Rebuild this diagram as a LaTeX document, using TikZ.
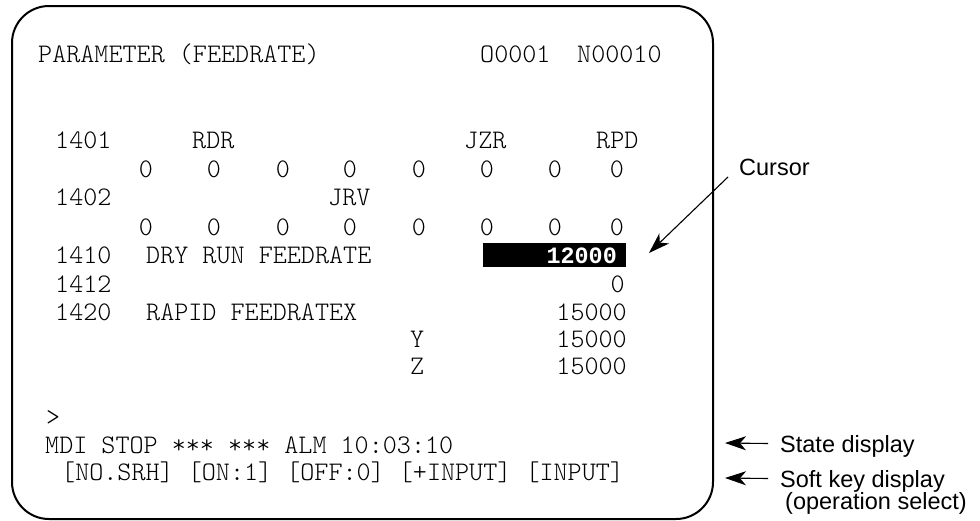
\documentclass[tikz,border=0pt]{standalone}
\usepackage{fontspec}
\setsansfont{Liberation Sans}
\setmonofont{Latin Modern Mono Light}
\newfontfamily\curmono{Liberation Mono}
\usetikzlibrary{arrows.meta}

\begin{document}
\begin{tikzpicture}[x=1pt,y=-1pt,
    scr/.style={anchor=base west,inner sep=0pt,font=\fontsize{26.8}{30}\selectfont\ttfamily},
    scrr/.style={scr,anchor=base east},
    scrc/.style={scr,anchor=base},
    note/.style={anchor=base west,inner sep=0pt,font=\fontsize{23.5}{28}\selectfont\sffamily},
    ptr/.style={line width=1.1pt,-{Stealth[length=21pt,width=14pt,inset=6pt]}}]
    \useasboundingbox (0,0) rectangle (980,520);
    \draw [line width=2pt,rounded corners=37pt] (12,6) rectangle (713,519);
    % screen text
    \node [scr] (title) at (38,62) {PARAMETER (FEEDRATE)};
    \node [scr] (prog) at (480,62) {O0001};
    \node [scr] (seq) at (577,62) {N00010};
    \node [scr] (p1401) at (55,148) {1401};
    \node [scr] (rdr) at (192,148) {RDR};
    \node [scr] (jzr) at (464,148) {JZR};
    \node [scr] (rpd) at (596,148) {RPD};
    \foreach \x [count=\i] in {146,214,283,350,419,487,555,617}
        \node [scrc] (a\i) at (\x,177) {0};
    \node [scr] (p1402) at (55,205) {1402};
    \node [scr] (jrv) at (328,205) {JRV};
    \foreach \x [count=\i] in {146,214,283,350,419,487,555,617}
        \node [scrc] (b\i) at (\x,235) {0};
    \node [scr] (p1410) at (55,263) {1410};
    \node [scr] (dry) at (146,263) {DRY RUN FEEDRATE};
    \node [fill=black,inner sep=0pt,minimum width=143pt,minimum height=24pt] (hl) at (554.5,255) {};
    \node [scrr,text=white,font=\fontsize{23.4}{28}\selectfont\curmono\bfseries] (v1410) at (617,263) {12000};
    \node [scr] (p1412) at (55,292) {1412};
    \node [scrr] (v1412) at (625,292) {0};
    \node [scr] (p1420) at (55,320) {1420};
    \node [scr] (rapid) at (146,320) {RAPID FEEDRATEX};
    \node [scrr] (v1420) at (627,320) {15000};
    \node [scr] (ay) at (410,347) {Y};
    \node [scrr] (vy) at (627,347) {15000};
    \node [scr] (az) at (410,374) {Z};
    \node [scrr] (vz) at (627,374) {15000};
    \node [scr] (prompt) at (46,425) {>};
    \node [scr] (status) at (45,453) {MDI STOP *** *** ALM 10:03:10};
    \node [scr] (keys) at (61,480) {[NO.SRH] [ON:1] [OFF:0] [+INPUT] [INPUT]};
    % callouts
    \node [note] (cursor) at (739,175) {Cursor};
    \node [note] (stnote) at (780,452) {State display};
    \node [note] (sknote) at (780,487) {Soft key display};
    \node [note] (opnote) at (785,509) {(operation select)};
    \coordinate (curtip) at (649,253);
    \coordinate (stend) at (725,443);
    \coordinate (skend) at (725,478);
    \draw [ptr] ([xshift=-11pt,yshift=-2pt]cursor.base west) -- (curtip);
    \draw [ptr] ([xshift=-12pt,yshift=8.5pt]stnote.base west) -- (stend);
    \draw [ptr] ([xshift=-12pt,yshift=8.5pt]sknote.base west) -- (skend);
\end{tikzpicture}
\end{document}
